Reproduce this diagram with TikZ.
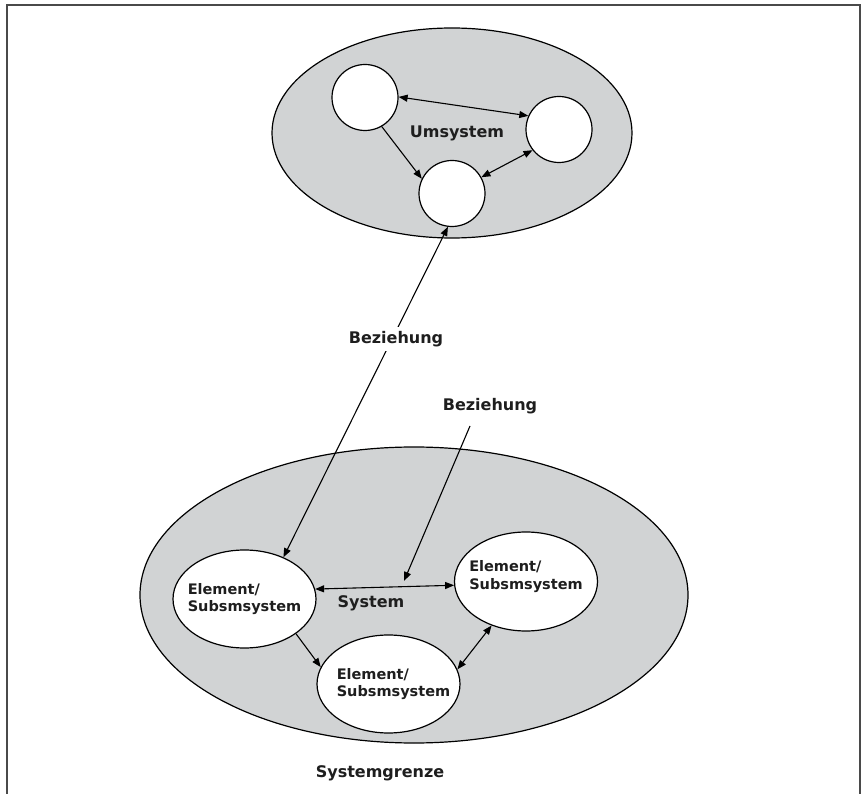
\documentclass[tikz,border=0pt]{standalone}
\usepackage{fontspec}
\setmainfont{DejaVu Sans}
\usetikzlibrary{shapes.geometric,arrows.meta}
\definecolor{areagray}{HTML}{D1D3D4}
\definecolor{framegray}{HTML}{4A4A4A}
\definecolor{inkdark}{HTML}{1E1E1E}
\tikzset{
  area/.style={ellipse, draw=black, line width=1.2pt, fill=areagray, inner sep=0pt},
  elem/.style={ellipse, draw=black, line width=1.2pt, fill=white, inner sep=0pt,
    minimum width=143pt, minimum height=98pt},
  elemtext/.style={font=\bfseries\fontsize{14.5}{17.5}\selectfont, align=left, text=inkdark},
  dot/.style={circle, draw=black, fill=white, line width=1.2pt, minimum size=66pt, inner sep=0pt},
  lab/.style={font=\bfseries\fontsize{16}{19}\selectfont, text=inkdark, inner sep=0pt},
  rel/.style={line width=1.1pt, -{Triangle[length=9pt,width=7pt]}},
  rel2/.style={line width=1.1pt, {Triangle[length=9pt,width=7pt]}-{Triangle[length=9pt,width=7pt]}},
}
\begin{document}
\begin{tikzpicture}[x=1pt,y=-1pt]
  \useasboundingbox (0,0) rectangle (863,794);
  % open frame
  \draw[framegray, line width=2pt] (7,794) -- (7,5) -- (860,5) -- (860,794);

  % environment
  \node[area, minimum width=360pt, minimum height=210pt] (env) at (452,133) {};
  \node[dot] (c1) at (365,97.5) {};
  \node[dot] (c2) at (559,129.5) {};
  \node[dot] (c3) at (452,193.5) {};
  \node[lab] (um) at (457,133) {Umsystem};

  % system
  \node[area, minimum width=548pt, minimum height=296pt] (sys) at (414,595) {};
  \node[elem, label={[elemtext]center:{Element/\\Subsmsystem}}] (e1) at (244.5,599) {};
  \node[elem, minimum height=99pt, label={[elemtext, yshift=5pt]center:{Element/\\Subsmsystem}}] (e2) at (526,581.5) {};
  \node[elem, label={[elemtext, xshift=5pt]center:{Element/\\Subsmsystem}}] (e3) at (388.5,684) {};
  \node[lab] (systxt) at (371,603) {System};
  \node[lab] (grenze) at (380,773) {Systemgrenze};

  % relations inside the environment
  \draw[rel2] (c1.1) -- (c2.156);
  \draw[rel] (c1.-60) -- (c3.154);
  \draw[rel2] (c2.218) -- (c3.29);

  % relations inside the system
  \draw[rel2] (e1.8) -- (e2.183);
  \draw[rel] (e1.-34) -- (e3.166);
  \draw[rel2] (e3.12) -- (e2.232);

  % relation crossing the boundary
  \draw[rel2] (e1.47) -- (c3.-97);
  \node[lab, fill=white, inner sep=4pt] (bz1) at (396,339) {Beziehung};

  % pointer to the inner relation
  \coordinate (bztail) at (470,426);
  \coordinate (bztip) at (404,581);
  \node[lab] (bz2) at (490,406) {Beziehung};
  \draw[rel] (bztail) -- (bztip);
\end{tikzpicture}
\end{document}
